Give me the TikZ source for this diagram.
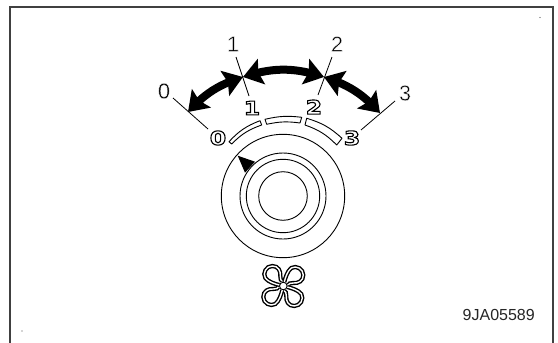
\documentclass[tikz,border=0pt]{standalone}
\usepackage{fontspec}
\setmainfont{Liberation Sans}
\newfontfamily\dialfont[FakeStretch=1.25]{DejaVu Sans Bold}
\usetikzlibrary{arrows.meta,bending}
\newcommand{\outlined}[1]{\special{pdf:code 2 Tr 1.1 w 0 0 0 RG 1 1 1 rg}#1\special{pdf:code 0 Tr 0 g}}
\newcommand{\slim}[1]{\special{pdf:code 2 Tr 0.4 w 1 1 1 RG 0 0 0 rg}#1\special{pdf:code 0 Tr 0 g}}
\tikzset{
  frameline/.style={draw=black!75,line width=2pt},
  thin line/.style={draw=black,line width=0.9pt},
  tickline/.style={draw=black,line width=0.8pt},
  bigarrow/.style={draw=black,line width=8pt,{Stealth[length=19pt,width=26pt,inset=3pt,flex=0.8]}-{Stealth[length=19pt,width=26pt,inset=3pt,flex=0.8]}},
  poslabel/.style={font=\fontsize{22}{22}\selectfont,inner sep=0pt},
  diallabel/.style={font=\dialfont\fontsize{19}{19}\selectfont,inner sep=0pt},
  segment/.style={draw=black,line width=0.9pt,fill=white,line join=round},
  blade/.style={draw=black,line width=4.2pt},
  bladein/.style={draw=white,line width=1.4pt},
}
\begin{document}
\begin{tikzpicture}[x=1pt,y=-1pt]
\useasboundingbox (0,0) rectangle (558,343);
\fill[white] (0,0) rectangle (558,343);
% frame
\coordinate (fa) at (10,343); \coordinate (fb) at (10,7);
\coordinate (fc) at (553,7);  \coordinate (fd) at (553,343);
\draw[frameline] (fa) -- (fb) -- (fc) -- (fd);
\fill[black!70] (540,17.5) circle (0.7);
\fill[black!70] (22,331) circle (0.7);
% knob
\coordinate (k) at (283,196);
\draw[thin line] (k) circle (61.7);
\draw[thin line] (k) circle (43);
\draw[thin line] (k) circle (36.7);
\draw[thin line] (k) circle (24.3);
\fill[black] (237.7,155.7) -- (255,161.7) -- (245,172.7) -- cycle;
% position labels
\node[poslabel] (L0) at (164,91) {\slim{0}};
\node[poslabel] (L1) at (233,44) {\slim{1}};
\node[poslabel] (L2) at (337,44) {\slim{2}};
\node[poslabel] (L3) at (405,93) {\slim{3}};
% dial labels
\node[diallabel] (D0) at (218,138) {\outlined{0}};
\node[diallabel] (D1) at (252,108) {\outlined{1}};
\node[diallabel] (D2) at (314,107) {\outlined{2}};
\node[diallabel] (D3) at (352,138) {\outlined{3}};
% ticks
\coordinate (t0a) at (173,98);  \coordinate (t0b) at (208,129);
\coordinate (t1a) at (236,57);  \coordinate (t1b) at (249,96);
\coordinate (t2a) at (332,57);  \coordinate (t2b) at (318,95);
\coordinate (t3a) at (395,101); \coordinate (t3b) at (361,130);
\draw[tickline] (t0a) -- (t0b);
\draw[tickline] (t1a) -- (t1b);
\draw[tickline] (t2a) -- (t2b);
\draw[tickline] (t3a) -- (t3b);
% arrows
\coordinate (a0) at (188,112); \coordinate (a1) at (243,77);
\coordinate (a2) at (324,77);  \coordinate (a3) at (380,113);
\draw[bigarrow] (a0) to[bend left=15] (a1);
\draw[bigarrow] (a1) to[bend left=18] (a2);
\draw[bigarrow] (a2) to[bend left=15] (a3);
% dial segments
\draw[segment] (229,141.7) to[bend left=13] (260,120.7) -- (261.7,125) to[bend right=13] (231.7,144) -- cycle;
\draw[segment] (265,119.3) to[bend left=10] (301.7,117.3) -- (300,123) to[bend right=10] (266.7,124.3) -- cycle;
\draw[segment] (306.7,118.3) to[bend left=13] (342,138.3) -- (336.7,145) to[bend right=13] (305,125) -- cycle;
% fan
\coordinate (fan) at (283.3,286);
\foreach \r in {0,90,180,270}{
  \begin{scope}[shift={(fan)},rotate=\r]
    \path[blade] (-4,-1) .. controls (-8,-2) and (-15,-4) .. (-18,-8) .. controls (-21,-13) and (-17,-20) .. (-11,-20) .. controls (-5,-20) and (-2.5,-15) .. (-3,-10) .. controls (-3.3,-7) and (-2,-5) .. (-1,-5);
    \path[bladein] (-4,-1) .. controls (-8,-2) and (-15,-4) .. (-18,-8) .. controls (-21,-13) and (-17,-20) .. (-11,-20) .. controls (-5,-20) and (-2.5,-15) .. (-3,-10) .. controls (-3.3,-7) and (-2,-5) .. (-1,-5);
  \end{scope}
}
\draw[thin line,fill=white] (fan) circle (3.8);
% code
\node[font=\fontsize{16}{16}\selectfont,anchor=east,inner sep=0pt,text=black!85] (code) at (535,315) {9JA05589};
\end{tikzpicture}
\end{document}
